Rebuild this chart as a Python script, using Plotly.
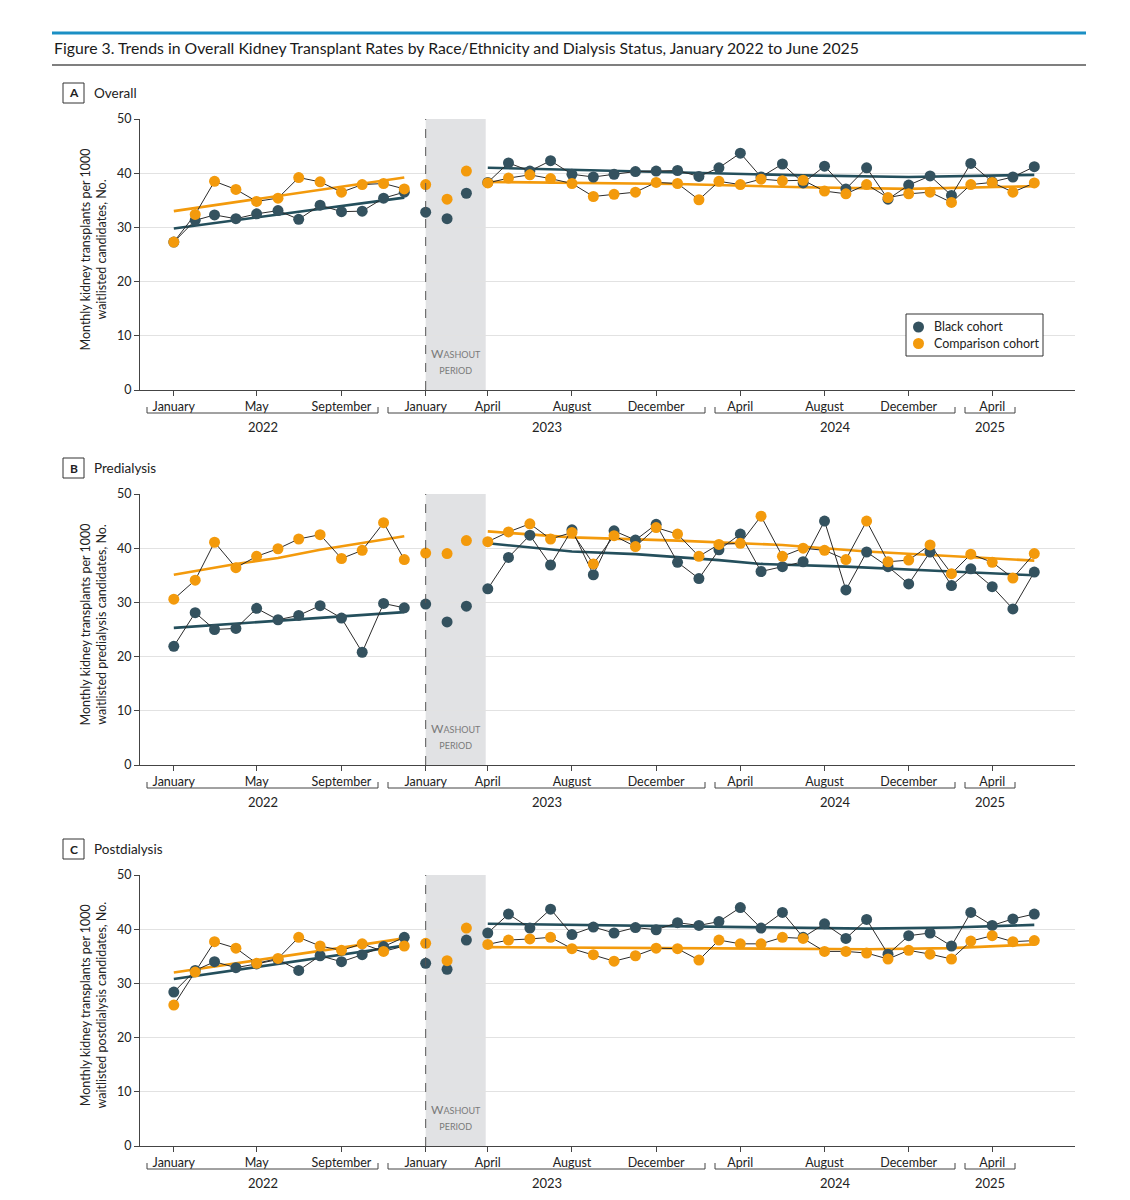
import pandas as pd
import plotly.graph_objects as go
from plotly.subplots import make_subplots

# Monthly points, January 2022 to June 2025 (Jan-Mar 2023 = washout)
months = pd.date_range("2022-01-01", periods=42, freq="MS")

black_overall = [27.3, 31.3, 32.3, 31.6, 32.5, 33.1, 31.5, 34.1, 32.9, 33.0, 35.4, 36.5,
                 32.8, 31.6, 36.3,
                 38.3, 41.9, 40.4, 42.3, 39.8, 39.3, 39.8, 40.3, 40.4,
                 40.5, 39.4, 41.0, 43.7, 39.3, 41.7, 38.2, 41.3, 37.1, 41.0, 35.2, 37.8,
                 39.5, 35.9, 41.8, 38.4, 39.3, 41.2]
comp_overall = [27.3, 32.4, 38.5, 37.0, 34.8, 35.4, 39.2, 38.4, 36.5, 37.9, 38.1, 37.1,
                37.9, 35.2, 40.4,
                38.2, 39.1, 39.7, 39.0, 38.1, 35.7, 36.1, 36.5, 38.3,
                38.1, 35.1, 38.5, 37.9, 38.9, 38.6, 38.7, 36.7, 36.2, 37.9, 35.5, 36.2,
                36.5, 34.6, 37.9, 38.3, 36.5, 38.2]

black_predial = [21.9, 28.1, 25.0, 25.2, 28.9, 26.8, 27.6, 29.4, 27.1, 20.8, 29.8, 29.0,
                 29.7, 26.4, 29.3,
                 32.5, 38.3, 42.4, 36.9, 43.4, 35.1, 43.2, 41.5, 44.4,
                 37.4, 34.4, 39.7, 42.6, 35.7, 36.6, 37.5, 45.0, 32.3, 39.3, 36.6, 33.4,
                 39.3, 33.1, 36.2, 32.9, 28.8, 35.6]
comp_predial = [30.6, 34.1, 41.1, 36.4, 38.5, 39.9, 41.7, 42.5, 38.1, 39.6, 44.7, 37.9,
                39.1, 39.0, 41.4,
                41.2, 43.0, 44.5, 41.7, 42.9, 37.1, 42.3, 40.3, 43.8,
                42.6, 38.5, 40.7, 40.9, 45.9, 38.5, 40.0, 39.6, 37.9, 45.0, 37.5, 37.8,
                40.6, 35.3, 38.9, 37.4, 34.5, 39.0]

black_postdial = [28.4, 32.4, 34.0, 32.9, 33.6, 34.4, 32.4, 35.1, 34.0, 35.3, 36.8, 38.5,
                  33.7, 32.6, 38.0,
                  39.3, 42.8, 40.2, 43.7, 39.0, 40.4, 39.3, 40.3, 39.9,
                  41.2, 40.7, 41.4, 44.0, 40.2, 43.1, 38.5, 41.0, 38.3, 41.8, 35.4, 38.8,
                  39.3, 36.9, 43.1, 40.7, 41.9, 42.8]
comp_postdial = [26.0, 32.1, 37.7, 36.5, 33.7, 34.6, 38.5, 36.9, 36.1, 37.3, 35.9, 36.9,
                 37.4, 34.2, 40.2,
                 37.2, 38.0, 38.2, 38.5, 36.4, 35.3, 34.1, 35.1, 36.5,
                 36.4, 34.3, 38.0, 37.3, 37.3, 38.5, 38.3, 35.9, 35.9, 35.6, 34.5, 36.1,
                 35.4, 34.5, 37.8, 38.8, 37.7, 37.9]

pre_trend_dates = ["2022-01-01", "2022-12-01"]
trend_a_black_pre = [29.8, 35.5]
trend_a_comp_pre = [33.0, 39.2]
trend_a_post_dates = ["2023-04-01", "2023-08-01", "2024-01-01", "2024-07-01", "2024-12-01", "2025-06-01"]
trend_a_black_post = [41.0, 40.6, 40.2, 39.6, 39.3, 39.7]
trend_a_comp_post = [38.4, 38.2, 38.0, 37.4, 37.1, 37.6]

trend_b_black_pre = [25.3, 28.2]
trend_b_comp_pre_dates = ["2022-01-01", "2022-04-01", "2022-06-01", "2022-08-01", "2022-12-01"]
trend_b_comp_pre = [35.1, 37.1, 38.2, 39.7, 42.2]
trend_b_black_post_dates = ["2023-04-01", "2023-08-01", "2023-11-01", "2024-03-01", "2024-05-01",
                            "2024-09-01", "2025-02-01", "2025-06-01"]
trend_b_black_post = [40.9, 39.4, 38.9, 37.8, 37.1, 36.6, 35.7, 35.0]
trend_b_comp_post_dates = ["2023-04-01", "2023-08-01", "2024-01-01", "2024-06-01", "2024-10-01",
                           "2025-02-01", "2025-06-01"]
trend_b_comp_post = [43.1, 42.0, 41.4, 40.6, 39.4, 38.6, 37.7]

trend_c_black_pre = [30.8, 37.0]
trend_c_comp_pre = [32.0, 38.3]
trend_c_post_dates = ["2023-04-01", "2023-08-01", "2024-06-01", "2024-10-01", "2025-02-01", "2025-06-01"]
trend_c_black_post = [41.0, 40.8, 40.4, 40.1, 40.3, 40.8]
trend_c_comp_post = [36.7, 36.6, 36.4, 36.3, 36.5, 37.2]

tick_dates = ["2022-01-01", "2022-05-01", "2022-09-01", "2023-01-01", "2023-04-01", "2023-08-01",
              "2023-12-01", "2024-04-01", "2024-08-01", "2024-12-01", "2025-04-01"]
tick_text = ["January", "May", "September", "January", "April", "August",
             "December", "April", "August", "December", "April"]
years = ["2022", "2023", "2024", "2025"]
legend_names = ["Black cohort", "Comparison cohort"]

BLACK = "#34525f"
BLACK_TREND = "#244f5c"
ORANGE = "#f39a0c"
FONT = "Lato"
# the page puts the figure 8px in from the top-left corner
OFF = 8
W, H = 1130 - OFF, 1200 - OFF

# layout in pixels of the final page: (plot top, plot bottom, panel label y)
panels = [
    ("A", "Overall", "waitlisted candidates, No.", 119, 390, 93),
    ("B", "Predialysis", "waitlisted predialysis candidates, No.", 494, 765, 468),
    ("C", "Postdialysis", "waitlisted postdialysis candidates, No.", 875, 1146, 849),
]
bracket_px = [(147, 378), (388, 705), (715, 955), (965, 1015)]


def px(x):
    return (x - OFF) / W


def py(y):
    return 1 - (y - OFF) / H


def note(text, x, y, size, color="#222222", xanchor="center", **kw):
    """Paper-anchored text placed by pixel position"""
    return dict(xref="paper", yref="paper", x=px(x), y=py(y), text=text, showarrow=False,
                xanchor=xanchor, yanchor="middle",
                font=dict(family=FONT, size=size, color=color), **kw)


def add_panel(fig, row, black, comp, trends):
    """Add trend lines, connectors and points for one panel"""
    for tx, ty, color in trends:
        fig.add_trace(go.Scatter(x=tx, y=ty, mode="lines", line=dict(color=color, width=2.6),
                                 showlegend=False, hoverinfo="skip"), row=row, col=1)
    # thin connectors, pre and post washout only
    for series in (black, comp):
        for sl in (slice(0, 12), slice(15, 42)):
            fig.add_trace(go.Scatter(x=months[sl], y=series[sl], mode="lines",
                                     line=dict(color="#2b2b2b", width=1),
                                     showlegend=False, hoverinfo="skip"), row=row, col=1)
    fig.add_trace(go.Scatter(x=months, y=black, mode="markers", name=legend_names[0],
                             marker=dict(color=BLACK, size=11), showlegend=False), row=row, col=1)
    fig.add_trace(go.Scatter(x=months, y=comp, mode="markers", name=legend_names[1],
                             marker=dict(color=ORANGE, size=11), showlegend=False), row=row, col=1)


def main():
    fig = make_subplots(rows=3, cols=1)

    add_panel(fig, 1, black_overall, comp_overall, [
        (pre_trend_dates, trend_a_black_pre, BLACK_TREND),
        (pre_trend_dates, trend_a_comp_pre, ORANGE),
        (trend_a_post_dates, trend_a_black_post, BLACK_TREND),
        (trend_a_post_dates, trend_a_comp_post, ORANGE),
    ])
    add_panel(fig, 2, black_predial, comp_predial, [
        (pre_trend_dates, trend_b_black_pre, BLACK_TREND),
        (trend_b_comp_pre_dates, trend_b_comp_pre, ORANGE),
        (trend_b_black_post_dates, trend_b_black_post, BLACK_TREND),
        (trend_b_comp_post_dates, trend_b_comp_post, ORANGE),
    ])
    add_panel(fig, 3, black_postdial, comp_postdial, [
        (pre_trend_dates, trend_c_black_pre, BLACK_TREND),
        (pre_trend_dates, trend_c_comp_pre, ORANGE),
        (trend_c_post_dates, trend_c_black_post, BLACK_TREND),
        (trend_c_post_dates, trend_c_comp_post, ORANGE),
    ])

    shapes = []
    annotations = []
    for i, (letter, name, ytitle, top, bottom, label_y) in enumerate(panels):
        row = i + 1
        fig.update_xaxes(domain=[px(140), px(1075)], row=row, col=1)
        fig.update_yaxes(domain=[py(bottom), py(top)], row=row, col=1)
        xref = "x" if row == 1 else f"x{row}"
        yref = "y" if row == 1 else f"y{row}"

        # washout period
        shapes.append(dict(type="rect", xref=xref, yref=yref, x0="2023-01-01", x1="2023-03-29",
                           y0=0, y1=50, fillcolor="#e1e2e4", line_width=0, layer="below"))
        shapes.append(dict(type="line", xref=xref, yref=yref, x0="2023-01-01", x1="2023-01-01",
                           y0=0, y1=50, line=dict(color="#555555", width=1, dash="dash")))
        annotations.append(dict(
            xref=xref, yref=yref, x="2023-02-14", y=5.3, showarrow=False,
            xanchor="center", yanchor="middle",
            text="W<span style='font-size:9px'>ASHOUT</span><br><span style='font-size:9px'>PERIOD</span>",
            font=dict(family=FONT, size=12, color="#7a7a7a"), align="center"))

        # panel label
        shapes.append(dict(type="rect", xref="paper", yref="paper", x0=px(63), x1=px(84),
                           y0=py(label_y + 10), y1=py(label_y - 10), line=dict(color="#333333", width=1)))
        annotations.append(note(f"<b>{letter}</b>", 73.5, label_y, 12))
        annotations.append(note(name, 92, label_y, 13.5, xanchor="left"))

        # y title
        annotations.append(note("Monthly kidney transplants per 1000<br>" + ytitle,
                                93, (top + bottom) / 2 - 5, 12.5, textangle=-90))

        # year brackets
        for (x0, x1), yr in zip(bracket_px, years):
            shapes.append(dict(type="path", xref="paper", yref="paper",
                               path=f"M {px(x0)} {py(bottom + 17)} L {px(x0)} {py(bottom + 23)} "
                                    f"L {px(x1)} {py(bottom + 23)} L {px(x1)} {py(bottom + 17)}",
                               line=dict(color="#444444", width=1)))
            annotations.append(note(yr, (x0 + x1) / 2, bottom + 37, 13))

    # legend box drawn by hand so it sits tight like the original
    shapes.append(dict(type="rect", xref="paper", yref="paper", x0=px(906), x1=px(1043),
                       y0=py(356), y1=py(314), line=dict(color="#333333", width=1),
                       fillcolor="white", layer="above"))
    for k, (label, color) in enumerate(zip(legend_names, [BLACK, ORANGE])):
        cy = 327 + k * 16.5
        shapes.append(dict(type="circle", xref="paper", yref="paper", x0=px(913), x1=px(924),
                           y0=py(cy + 5.5), y1=py(cy - 5.5), fillcolor=color, line_width=0,
                           layer="above"))
        annotations.append(note(label, 932, cy, 12.5, xanchor="left"))

    # title block
    shapes.append(dict(type="line", xref="paper", yref="paper", x0=px(52), x1=px(1086),
                       y0=py(33), y1=py(33), line=dict(color="#1b8fc4", width=3)))
    shapes.append(dict(type="line", xref="paper", yref="paper", x0=px(52), x1=px(1086),
                       y0=py(65), y1=py(65), line=dict(color="#555555", width=1.5)))
    annotations.append(note("Figure 3. Trends in Overall Kidney Transplant Rates by Race/Ethnicity "
                            "and Dialysis Status, January 2022 to June 2025",
                            52, 48, 15.8, color="#1a1a1a", xanchor="left"))

    fig.update_xaxes(type="date", range=["2021-11-13", "2025-07-30"], tickvals=tick_dates,
                     ticktext=tick_text, ticks="outside", ticklen=5, tickcolor="#444444",
                     showline=True, linecolor="#444444", linewidth=1, showgrid=False, zeroline=False,
                     automargin=False, tickfont=dict(family=FONT, size=12.5, color="#222222"))
    fig.update_yaxes(range=[0, 50], dtick=10, ticks="outside", ticklen=5, tickcolor="#444444",
                     showline=True, linecolor="#444444", linewidth=1, showgrid=True,
                     gridcolor="#e2e2e2", zeroline=False, automargin=False,
                     tickfont=dict(family=FONT, size=12.5, color="#222222"))

    fig.update_layout(
        width=W, height=H,
        margin=dict(l=0, r=0, t=0, b=0),
        paper_bgcolor="white", plot_bgcolor="white",
        shapes=shapes, annotations=annotations,
        showlegend=False,
        font=dict(family=FONT),
    )

    fig.write_html("out.html")


if __name__ == "__main__":
    main()
